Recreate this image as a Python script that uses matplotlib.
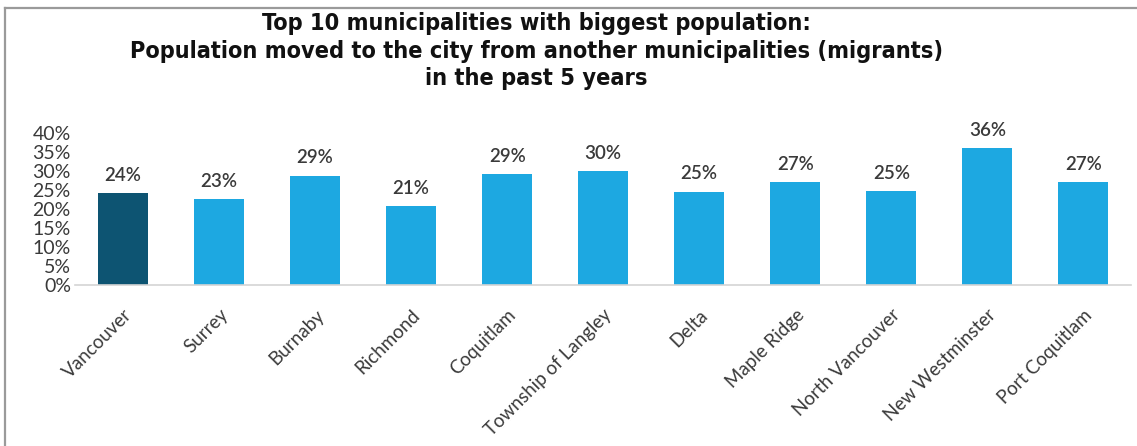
import matplotlib.pyplot as plt
from matplotlib.lines import Line2D

municipalities = [
    "Vancouver", "Surrey", "Burnaby", "Richmond", "Coquitlam",
    "Township of Langley", "Delta", "Maple Ridge", "North Vancouver",
    "New Westminster", "Port Coquitlam",
]
migrant_share = [24.2, 22.7, 28.8, 20.9, 29.3, 29.9, 24.6, 27.2, 24.8, 36.0, 27.0]
y_ticks = [0, 5, 10, 15, 20, 25, 30, 35, 40]

DARK = "#0D5472"
LIGHT = "#1DA8E1"
TEXT = "#3a3a3a"

fig = plt.figure(figsize=(11.37, 4.46), dpi=100)
ax = fig.add_axes([0.066, 0.36, 0.929, 0.342])

colors = [DARK] + [LIGHT] * (len(municipalities) - 1)
x = range(len(municipalities))
bars = ax.bar(x, migrant_share, width=0.52, color=colors, zorder=2)

for b, v in zip(bars, migrant_share):
    ax.text(b.get_x() + b.get_width() / 2, v + 2.4, f"{round(v)}%",
            ha="center", va="bottom", fontsize=13.5, color=TEXT,
            family="Lato", fontweight="semibold")

ax.set_xlim(-0.5, len(municipalities) - 0.5)
ax.set_ylim(0, 40)
ax.set_yticks(y_ticks)
ax.set_yticklabels([f"{t}%" for t in y_ticks], fontsize=14, color=TEXT, family="Lato")
ax.set_xticks(list(x))
ax.set_xticklabels(municipalities, rotation=45, ha="right", rotation_mode="anchor",
                   fontsize=13.5, color=TEXT, family="Lato")
ax.tick_params(axis="both", length=0)
ax.tick_params(axis="x", pad=15)
ax.tick_params(axis="y", pad=3)

for s in ["top", "right", "left"]:
    ax.spines[s].set_visible(False)
ax.spines["bottom"].set_color("#d4d4d4")
ax.spines["bottom"].set_linewidth(1.2)

title = ("Top 10 municipalities with biggest population:\n"
         "Population moved to the city from another municipalities (migrants)\n"
         "in the past 5 years")
fig.text(0.472, 0.972, title, ha="center", va="top", fontsize=16.8,
         fontweight="bold", fontstretch="condensed", linespacing=1.24,
         color="#111111", family="DejaVu Sans")

# outer frame (top and left edges)
fig.add_artist(Line2D([0.0045, 1.0], [0.982, 0.982], transform=fig.transFigure,
                      color="#9a9a9a", linewidth=1.6))
fig.add_artist(Line2D([0.0045, 0.0045], [0.0, 0.982], transform=fig.transFigure,
                      color="#9a9a9a", linewidth=1.6))

fig.savefig("out.png", dpi=100)
